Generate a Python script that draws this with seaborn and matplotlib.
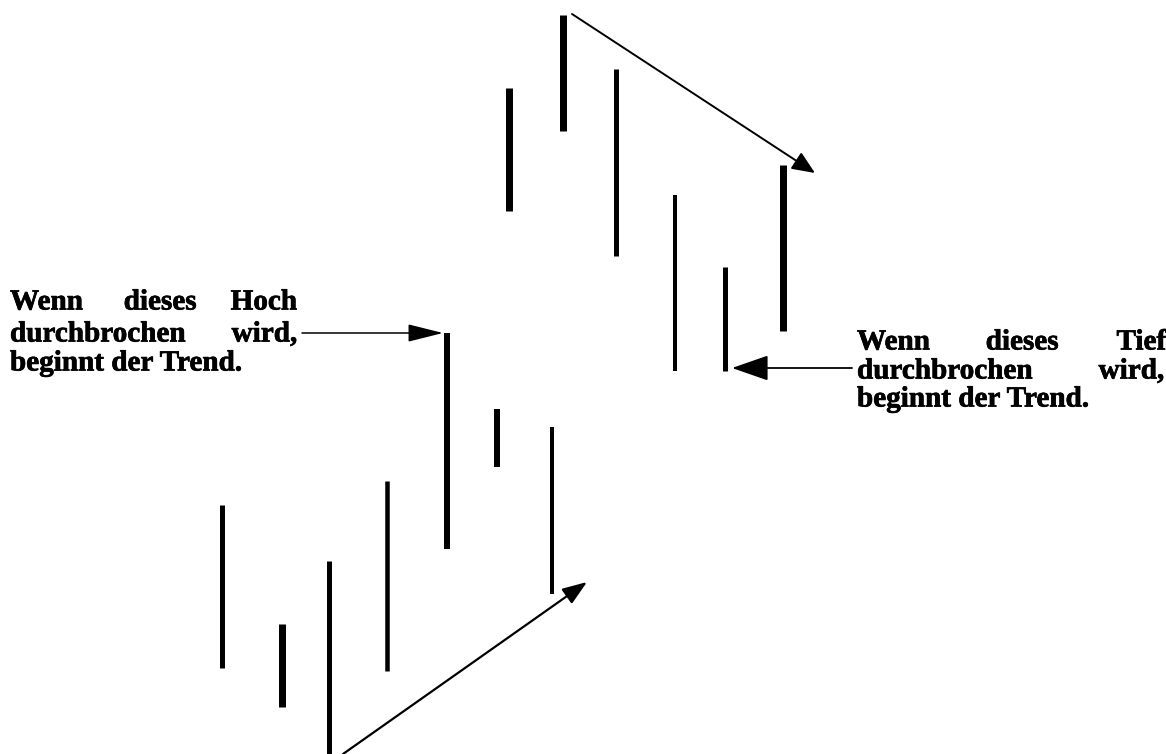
import matplotlib
matplotlib.use("Agg")
import matplotlib.pyplot as plt
import matplotlib.patheffects as pe
import pandas as pd
import seaborn as sns

bar_time = [222, 282, 329, 387, 447, 497, 552, 509, 563, 616, 675, 725, 783]
bar_high = [249, 130, 193, 273, 421, 345, 327, 666, 739, 685, 559, 487, 589]
bar_low = [86, 47, 0, 83, 205, 287, 160, 543, 623, 498, 383, 383, 423]
bar_width_px = [5, 7, 5, 4.5, 6, 6, 4, 7, 7, 5, 4, 5, 7]

label_left = [["Wenn", "dieses", "Hoch"], ["durchbrochen", "wird,"], ["beginnt der Trend."]]
label_right = [["Wenn", "dieses", "Tief"], ["durchbrochen", "wird,"], ["beginnt der Trend."]]

rows = []
for i, (t, hi, lo) in enumerate(zip(bar_time, bar_high, bar_low)):
    rows.append({"bar": i, "time": t, "price": hi})
    rows.append({"bar": i, "time": t, "price": lo})
df = pd.DataFrame(rows)

sns.set_theme(style="white")
fig = plt.figure(figsize=(11.66, 7.54), dpi=100)
ax = fig.add_axes([0, 0, 1, 1])

sizes = {i: w * 0.72 for i, w in enumerate(bar_width_px)}
sns.lineplot(data=df, x="time", y="price", units="bar", size="bar", sizes=sizes,
             estimator=None, color="black", legend=False, ax=ax, solid_capstyle="butt")


def arrow(start, end, lw, head_len, head_w):
    style = f"-|>,head_length={head_len},head_width={head_w}"
    ax.annotate("", xy=end, xytext=start,
                arrowprops=dict(arrowstyle=style, mutation_scale=10, color="black",
                                lw=lw, shrinkA=0, shrinkB=0))


# trend arrows
arrow((343, 0), (587, 172), 1.6, 1.5, 0.55)
arrow((572, 740), (815, 581), 1.4, 1.4, 0.6)
# breakout arrows
arrow((302, 421), (443, 421), 1.1, 2.2, 0.55)
arrow((852, 386), (732, 386), 1.3, 2.3, 0.8)

font = dict(family="Liberation Serif", weight="bold", size=21, color="black",
            path_effects=[pe.withStroke(linewidth=0.5, foreground="black")])
left_y = [452, 420, 391]
right_y = [412, 383, 355]

ax.text(10, left_y[0], label_left[0][0], ha="left", va="center", **font)
ax.text(160, left_y[0], label_left[0][1], ha="center", va="center", **font)
ax.text(297, left_y[0], label_left[0][2], ha="right", va="center", **font)
ax.text(10, left_y[1], label_left[1][0], ha="left", va="center", **font)
ax.text(297, left_y[1], label_left[1][1], ha="right", va="center", **font)
ax.text(10, left_y[2], label_left[2][0], ha="left", va="center", **font)

ax.text(857, right_y[0], label_right[0][0], ha="left", va="center", **font)
ax.text(1022, right_y[0], label_right[0][1], ha="center", va="center", **font)
ax.text(1166, right_y[0], label_right[0][2], ha="right", va="center", **font)
ax.text(857, right_y[1], label_right[1][0], ha="left", va="center", **font)
ax.text(1164, right_y[1], label_right[1][1], ha="right", va="center", **font)
ax.text(857, right_y[2], label_right[2][0], ha="left", va="center", **font)

ax.set_xlim(0, 1166)
ax.set_ylim(0, 754)
ax.axis("off")
fig.savefig("out.png", dpi=100, facecolor="white")
